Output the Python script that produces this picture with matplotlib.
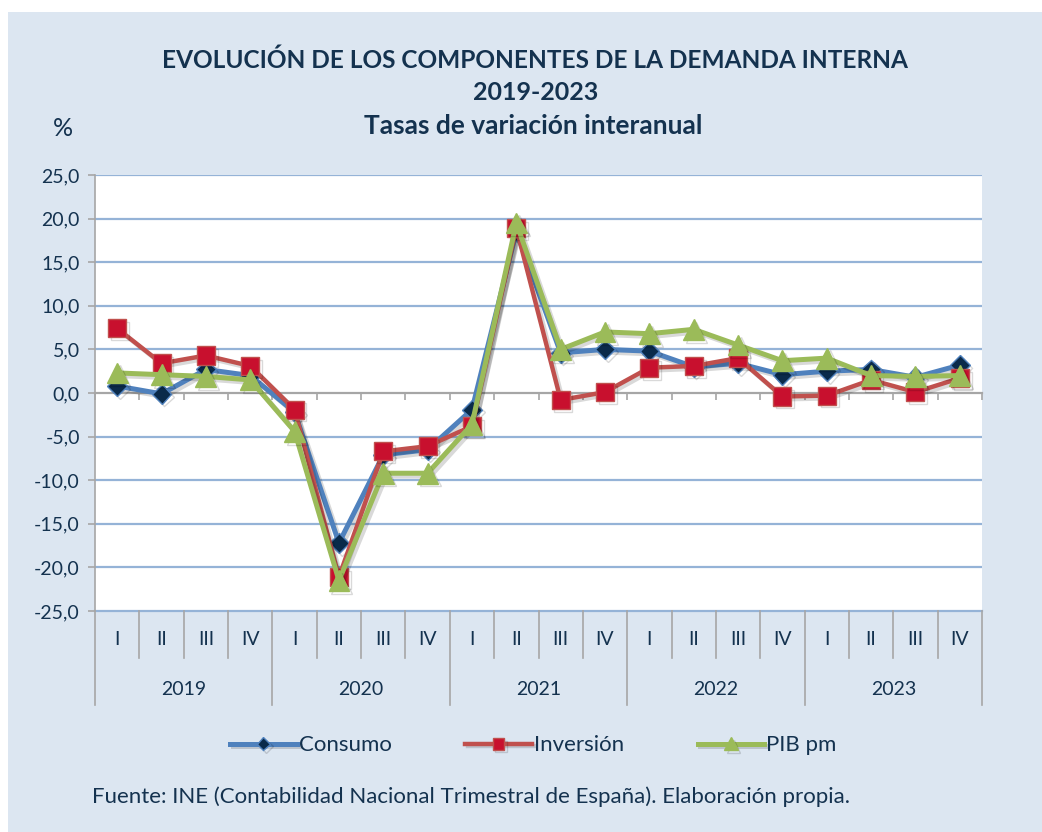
import numpy as np
import matplotlib.pyplot as plt
import matplotlib.patheffects as pe
from matplotlib.patches import Rectangle
from matplotlib.transforms import blended_transform_factory

plt.rcParams['font.family'] = ['Lato', 'DejaVu Sans']

years = ['2019', '2020', '2021', '2022', '2023']
quarters = ['I', 'II', 'III', 'IV']

consumo = [0.8, -0.1, 2.7, 2.0, -2.2, -17.2, -7.1, -6.5, -1.9, 18.5,
           4.6, 5.0, 4.8, 3.0, 3.4, 2.1, 2.5, 2.7, 1.8, 3.2]
inversion = [7.4, 3.4, 4.3, 3.1, -1.9, -21.1, -6.7, -6.1, -3.8, 18.9,
             -0.8, 0.1, 2.9, 3.1, 4.0, -0.4, -0.3, 1.5, 0.1, 1.7]
pib = [2.3, 2.1, 1.9, 1.5, -4.4, -21.5, -9.2, -9.2, -3.6, 19.5,
       5.0, 7.0, 6.8, 7.3, 5.5, 3.7, 4.0, 2.0, 1.9, 2.0]

navy = '#14324f'
bg = '#dce6f1'
grid_c = '#95b3d7'
axis_c = '#a6a6a6'

fig = plt.figure(figsize=(10.42, 8.32), dpi=100)
fig.patches.append(Rectangle((0.008, 0), 0.992, 0.986, transform=fig.transFigure,
                             facecolor=bg, edgecolor='none', zorder=-10))
ax = fig.add_axes([0.0912, 0.2656, 0.8512, 0.5241])
ax.set_facecolor('white')

x = np.arange(len(consumo))
shadow = [pe.SimpleLineShadow(offset=(2, -2), alpha=0.15), pe.Normal()]
ax.plot(x, consumo, color='#4f81bd', lw=3.6, marker='D', ms=10,
        mfc='#0a2a4a', mec='#4f81bd', mew=1, label='Consumo', zorder=3,
        path_effects=shadow)
ax.plot(x, inversion, color='#c0504d', lw=3.2, marker='s', ms=13,
        mfc='#c8102e', mec='#c0504d', mew=1, label='Inversión', zorder=4,
        path_effects=shadow)
ax.plot(x, pib, color='#9bbb59', lw=3.6, marker='^', ms=15,
        mfc='#9bbb59', mec='#9bbb59', label='PIB pm', zorder=5,
        path_effects=shadow)

ax.set_xlim(-0.5, len(x) - 0.5)
ax.set_ylim(-25, 25)
yt = np.arange(-25, 26, 5)
ax.set_yticks(yt)
ax.set_yticklabels([f'{v:.1f}'.replace('.', ',') for v in yt])
for v in yt[1:]:
    if v != 0:
        ax.axhline(v, color=grid_c, lw=1.6, zorder=1)
ax.axhline(-25, color=grid_c, lw=1.6, zorder=1, clip_on=False)

# zero line as x axis with tick marks at quarter boundaries
for s in ['top', 'right']:
    ax.spines[s].set_visible(False)
ax.spines['bottom'].set_position(('data', 0))
ax.spines['bottom'].set_color(axis_c)
ax.spines['bottom'].set_linewidth(1.6)
ax.spines['left'].set_color(axis_c)
ax.spines['left'].set_linewidth(1.2)
ax.set_xticks(np.arange(-0.5, len(x), 1.0))
ax.set_xticklabels([])
ax.tick_params(axis='x', direction='out', length=5, color=axis_c, width=1.2)
ax.tick_params(axis='y', direction='out', length=5, color=axis_c, width=1.2,
               labelsize=14, labelcolor=navy, pad=6)

# two-level category axis
tr = blended_transform_factory(ax.transData, ax.transAxes)
for i in range(len(x)):
    ax.text(i, -0.066, quarters[i % 4], transform=tr, ha='center', va='center',
            fontsize=14, color=navy)
for b in np.arange(-0.5, len(x), 1.0):
    low = -0.216 if (b + 0.5) % 4 == 0 else -0.108
    ax.plot([b, b], [0, low], transform=tr, color=axis_c, lw=1.2, clip_on=False)
for k, yr in enumerate(years):
    ax.text(4 * k + 1.5, -0.181, yr, transform=tr, ha='center', va='center',
            fontsize=14, color=navy)

fig.text(0.513, 0.928, 'EVOLUCIÓN DE LOS COMPONENTES DE LA DEMANDA INTERNA',
         ha='center', va='center', fontsize=17.6, fontweight='bold', color=navy)
fig.text(0.514, 0.889, '2019-2023', ha='center', va='center', fontsize=18,
         fontweight='bold', color=navy)
fig.text(0.512, 0.848, 'Tasas de variación interanual', ha='center', va='center',
         fontsize=19, fontweight='bold', color=navy)
fig.text(0.06, 0.846, '%', ha='center', va='center', fontsize=18, color=navy)

fig.legend(loc='center', bbox_to_anchor=(0.512, 0.104), ncol=3, frameon=False,
           fontsize=16, handlelength=3.0, handletextpad=0.1, columnspacing=3.3,
           markerscale=0.65, labelcolor=navy)
fig.text(0.088, 0.042, 'Fuente: INE (Contabilidad Nacional Trimestral de España). Elaboración propia.',
         ha='left', va='center', fontsize=16, color=navy)

fig.savefig('out.png', dpi=100)
